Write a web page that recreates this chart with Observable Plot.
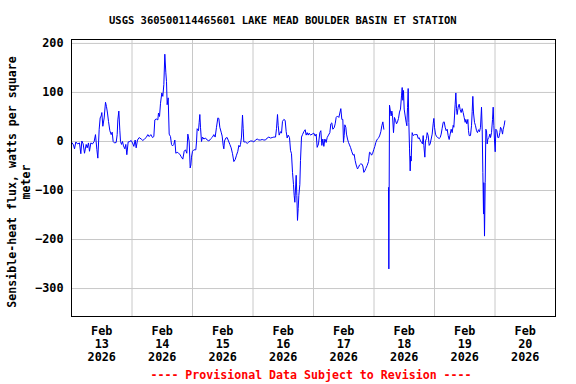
<!DOCTYPE html>
<html><head><meta charset="utf-8">
<script src="https://cdn.jsdelivr.net/npm/d3@7"></script>
<script src="https://cdn.jsdelivr.net/npm/@observablehq/plot@0.6"></script>
<style>
html,body{margin:0;padding:0;background:#fff;}
body{width:576px;height:384px;overflow:hidden;font-family:"DejaVu Sans Mono",monospace;font-weight:bold;}
#title{height:30px;box-sizing:border-box;padding-left:109px;padding-top:13px;font-size:10.5px;line-height:14px;white-space:pre;color:#000;}
#chart{height:336px;}
#chart svg{display:block;}
#caption{height:18px;line-height:18px;font-size:11.6px;text-align:center;padding-left:46px;color:#ff0000;white-space:pre;}
</style>
</head><body>
<div id="title"></div>
<div id="chart"></div>
<div id="caption"></div>
<script>
const titleText = "USGS 360500114465601 LAKE MEAD BOULDER BASIN ET STATION";
const captionText = "---- Provisional Data Subject to Revision ----";
const yLabelLines = ["Sensible-heat flux, watts per square", "meter"];
const yTicks = [200, 100, 0, -100, -200, -300];
const gridDays = [14, 15, 16, 17, 18, 19, 20];
const labelDays = [13, 14, 15, 16, 17, 18, 19, 20];
const monthLabel = "Feb";
const yearLabel = "2026";

// hours since 2026-02-13 00:00
const hours = [
0.1,0.79,1.19,1.72,2.38,3.17,3.70,4.10,4.63,5.16,5.82,6.22,6.74,7.14,7.67,8.33,8.99,9.52,10.05,10.45,
10.98,11.37,11.77,12.03,12.43,12.96,13.49,13.88,14.28,14.68,15.21,15.74,16.13,16.53,17.06,17.72,18.12,18.38,18.78,19.17,
19.44,19.84,20.23,20.63,21.16,21.55,21.95,22.48,23.14,23.67,24.20,24.73,25.26,25.65,26.18,26.84,27.64,28.30,28.96,29.62,
30.28,30.81,31.47,32.13,32.66,33.06,33.59,34.25,34.51,34.91,35.31,35.83,36.23,36.63,37.02,37.42,37.69,37.95,38.35,38.75,
39.27,39.67,40.07,40.59,40.99,41.39,41.92,42.45,42.97,43.51,44.16,44.70,45.22,45.75,46.15,46.68,47.08,47.35,47.60,48.00,
48.53,49.32,49.59,49.85,50.38,50.65,50.91,51.17,51.57,51.97,52.50,53.16,53.82,54.48,55.14,55.93,56.46,56.99,57.52,58.05,
58.45,58.84,59.37,59.77,60.17,60.43,60.70,61.22,61.75,62.28,62.81,63.34,63.87,64.40,64.93,65.46,65.98,66.38,66.78,67.04,
67.44,67.84,68.10,68.36,69.03,69.69,70.35,71.01,71.67,72.33,72.99,73.66,74.32,74.98,75.64,76.30,76.96,77.62,78.28,78.94,
79.61,80.27,80.93,81.32,81.72,81.99,82.38,82.91,83.31,83.70,84.23,84.76,85.16,85.56,85.95,86.48,86.88,87.27,87.67,88.07,
88.33,88.60,88.86,89.13,89.39,89.65,89.92,90.18,90.58,90.84,91.24,91.64,92.17,92.70,93.09,93.49,93.89,94.28,94.81,95.47,
96.13,96.66,97.06,97.46,97.98,98.51,98.91,99.31,99.70,100.10,100.50,101.03,101.42,101.95,102.48,102.88,103.27,103.67,104.20,104.60,
104.99,105.52,106.05,106.45,106.84,107.24,107.64,107.90,108.17,108.43,108.83,109.09,109.49,109.89,110.28,110.68,111.21,111.74,112.13,112.53,
112.93,113.46,113.85,114.25,114.65,115.17,115.57,115.97,116.36,116.76,117.29,117.82,118.22,118.61,119.01,119.41,119.94,120.33,120.73,121.13,
121.52,121.92,122.32,122.71,123.11,123.51,123.90,124.80,125.75,125.89,126.15,126.55,126.81,127.08,127.34,127.74,128.13,128.53,128.93,129.32,
129.72,130.12,130.51,130.91,131.18,131.44,131.70,131.97,132.37,132.76,133.03,133.29,133.56,133.82,134.09,134.35,134.55,134.75,134.95,135.14,
135.54,136.07,136.60,137.13,137.52,137.92,138.45,138.85,139.24,139.51,139.77,140.17,140.43,140.83,141.09,141.49,141.89,142.28,142.68,143.08,
143.47,143.74,144.00,144.40,144.80,145.32,145.85,146.25,146.65,147.04,147.44,147.84,148.23,148.63,149.03,149.42,149.82,150.22,150.61,151.01,
151.41,151.67,151.94,152.20,152.47,152.73,152.99,153.39,153.79,154.18,154.58,154.98,155.37,155.77,156.17,156.43,156.83,157.23,157.49,157.76,
158.28,158.68,158.95,159.21,159.48,159.87,160.27,160.67,161.06,161.46,161.86,162.25,162.65,162.92,163.18,163.45,163.58,163.84,164.11,164.37,
164.64,164.90,165.17,165.56,165.96,166.23,166.62,167.02,167.28,167.55,167.81,168.08,168.34,168.74,169.14,169.53,169.93,170.19,170.59,170.99,
171.25,171.65,171.91
];
const flux = [
-2,-7,-15,-1,-5,-3,-25,1,-5,-24,-6,-13,-3,-20,-3,-5,0,14,-16,-34,
25,48,52,59,31,48,80,71,58,41,22,14,19,0,-3,-2,14,44,62,23,
0,-6,0,-9,-15,-6,-27,-1,0,2,-3,-10,3,-13,3,8,5,2,5,8,
14,10,14,8,10,44,46,44,58,51,78,99,92,116,178,140,122,75,89,15,
10,-6,-9,-6,3,-24,-22,-24,-26,-31,-36,-20,-17,-24,15,0,-54,-48,-32,-20,
-17,-17,-1,26,22,39,55,29,0,9,5,7,3,1,5,9,14,9,29,48,
47,29,19,11,-8,-15,1,7,8,1,-6,-13,-25,-41,-37,-28,-20,-8,-11,-6,
9,54,27,-1,-1,-4,-1,1,1,-1,3,5,3,3,4,3,3,7,9,7,
8,9,9,26,55,33,13,20,17,41,45,43,20,7,13,8,-18,-25,-63,-88,
-110,-124,-97,-69,-110,-161,-137,-110,-88,-39,9,14,20,24,13,18,13,17,13,15,
17,11,15,-12,-5,18,22,-8,5,-10,5,-2,8,13,18,36,38,25,28,36,
49,52,49,58,67,45,45,-2,12,34,29,15,5,-2,-7,-12,-21,-28,-26,-39,
-48,-56,-53,-48,-46,-46,-50,-63,-60,-55,-49,-41,-22,-23,-28,-25,-16,-10,-2,3,
6,8,13,20,32,40,25,null,-94,-260,74,60,52,62,53,18,49,43,36,40,
47,60,66,93,110,84,104,66,52,39,32,69,108,39,-15,-60,-30,-40,-5,18,
12,14,14,14,6,8,1,-2,-5,12,-8,-32,1,6,18,12,-8,-5,5,15,
36,47,29,15,10,8,6,8,15,27,39,40,29,22,25,12,4,15,25,18,
33,29,52,76,99,67,55,70,76,65,59,67,59,49,39,45,36,45,22,12,
12,32,61,92,58,39,32,22,18,24,20,29,70,25,-63,-148,-84,-193,-84,25,
22,-5,5,8,15,8,18,45,70,32,1,-21,25,22,8,8,18,29,25,15,
25,33,42
];

document.getElementById("title").textContent = titleText;
document.getElementById("caption").textContent = captionText;

const t0 = Date.UTC(2026, 1, 13);
const data = hours.map((h, i) => ({t: new Date(t0 + h * 3600e3), v: flux[i]}));
const gridDates = gridDays.map(d => new Date(Date.UTC(2026, 1, d)));
const labelDates = labelDays.map(d => new Date(Date.UTC(2026, 1, d, 12)));

const chart = Plot.plot({
  width: 576,
  height: 336,
  marginTop: 9,
  marginBottom: 50,
  marginLeft: 71,
  marginRight: 21,
  style: {fontFamily: "DejaVu Sans Mono, monospace", fontWeight: "bold", fontSize: "11.8px", color: "#000", background: "#fff"},
  x: {type: "utc", domain: [new Date(t0), new Date(Date.UTC(2026, 1, 21))]},
  y: {domain: [-357, 208]},
  marks: [
    Plot.gridY(yTicks, {stroke: "#c8c8c8", strokeOpacity: 1, strokeWidth: 1}),
    Plot.gridX(gridDates, {stroke: "#c8c8c8", strokeOpacity: 1, strokeWidth: 1}),
    Plot.line(data, {x: "t", y: "v", stroke: "#0000ff", strokeWidth: 1}),
    Plot.frame({stroke: "#000", strokeWidth: 1}),
    Plot.axisY(yTicks, {tickSize: 0, tickPadding: 8, label: null, fontSize: 11.8}),
    Plot.axisX(labelDates, {
      tickSize: 0, tickPadding: 9.5, label: null, lineHeight: 1.1, fontSize: 11.8,
      tickFormat: d => `${monthLabel}\n${d.getUTCDate()}\n${yearLabel}`
    }),
    Plot.text([yLabelLines.join("\n")], {
      frameAnchor: "left", textAnchor: "middle", rotate: -90, dx: -53, dy: 4, text: d => d,
      lineHeight: 1.24, fontSize: 11.6, fill: "#000"
    })
  ]
});
document.getElementById("chart").appendChild(chart);
</script>
</body></html>
